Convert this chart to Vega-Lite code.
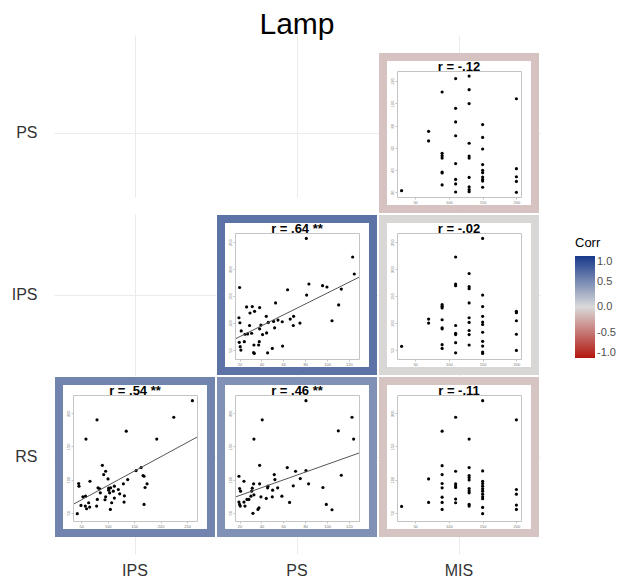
{
"$schema": "https://vega.github.io/schema/vega-lite/v6.json",
"background": "white",
"padding": {"left": 11, "top": 10, "right": 2, "bottom": 5},
"title": {"text": "Lamp", "fontSize": 30, "fontWeight": "normal", "color": "#000000", "font": "Liberation Sans", "anchor": "middle", "frame": "group", "dx": 254, "offset": -5},
"columns": 3,
"spacing": 0,
"align": "each",
"bounds": "flush",
"resolve": {"scale": {"stroke": "shared"}, "legend": {"stroke": "shared"}},
"config": {"view": {"stroke": null}, "font": "Liberation Sans",
  "legend": {"gradientLength": 102, "gradientThickness": 20, "titleFontSize": 13, "titleFontWeight": "normal", "titleColor": "#000000", "labelFontSize": 11, "labelColor": "#4d4d4d", "titlePadding": 6, "labelOffset": 2, "direction": "vertical", "gradientStrokeWidth": 0}},
"datasets": {
 "tiles": [
  {"row": "PS", "col": "MIS", "corr": -0.12, "label": "r = -.12"},
  {"row": "IPS", "col": "PS", "corr": 0.64, "label": "r = .64 **"},
  {"row": "IPS", "col": "MIS", "corr": -0.02, "label": "r = -.02"},
  {"row": "RS", "col": "IPS", "corr": 0.54, "label": "r = .54 **"},
  {"row": "RS", "col": "PS", "corr": 0.46, "label": "r = .46 **"},
  {"row": "RS", "col": "MIS", "corr": -0.11, "label": "r = -.11"}
 ],
 "empty": [{"row": "PS", "col": "IPS"}, {"row": "PS", "col": "PS"}, {"row": "IPS", "col": "IPS"}],
 "rs_ips": [
  {"x":260,"y":219},{"x":224.8,"y":194},{"x":79.7,"y":190},{"x":135,"y":173},{"x":58.8,"y":161},{"x":192.6,"y":161},{"x":89.8,"y":121.5},{"x":96,"y":112.5},{"x":92.3,"y":107.5},{"x":163,"y":118},{"x":153.5,"y":113.5},{"x":166.7,"y":106},{"x":168.6,"y":105},{"x":100.5,"y":101},{"x":137.7,"y":100},{"x":66.4,"y":97.5},{"x":45,"y":94},{"x":45.6,"y":90},{"x":81.6,"y":87.5},{"x":84.7,"y":86},{"x":101.7,"y":87},{"x":105.5,"y":87.5},{"x":112.5,"y":90},{"x":120,"y":85},{"x":129.5,"y":93.5},{"x":174.3,"y":93.5},{"x":170.5,"y":88},{"x":101.7,"y":84},{"x":110.5,"y":82.5},{"x":85.9,"y":80},{"x":122.6,"y":78.5},{"x":131.4,"y":75.5},{"x":53,"y":74},{"x":58,"y":75},{"x":96,"y":74},{"x":103.6,"y":80},{"x":112.5,"y":72},{"x":80.3,"y":70},{"x":94.8,"y":69.5},{"x":130.8,"y":66},{"x":63.9,"y":65},{"x":107.4,"y":65},{"x":49.4,"y":61},{"x":57.6,"y":60},{"x":65.8,"y":58.5},{"x":60,"y":56},{"x":79,"y":60},{"x":104.9,"y":55},{"x":168.6,"y":62.5},{"x":42.4,"y":48.5}
 ],
 "rs_ps": [
  {"x":80.7,"y":219},{"x":122.8,"y":194},{"x":40.7,"y":190},{"x":110.3,"y":173.5},{"x":33.1,"y":161},{"x":124.3,"y":161},{"x":38.3,"y":121.5},{"x":63.6,"y":118},{"x":80.7,"y":113.5},{"x":71.2,"y":112.5},{"x":51.7,"y":107.5},{"x":113,"y":106.5},{"x":19.4,"y":105},{"x":52.3,"y":100},{"x":75.5,"y":101.5},{"x":24,"y":97.5},{"x":32.8,"y":93.5},{"x":38.3,"y":93.5},{"x":83.1,"y":93.5},{"x":45.9,"y":90},{"x":69.1,"y":90.5},{"x":54.8,"y":87.5},{"x":45.6,"y":87.5},{"x":96.2,"y":88},{"x":20,"y":86.5},{"x":20.9,"y":82.5},{"x":31,"y":82.5},{"x":50.2,"y":84},{"x":31.6,"y":87},{"x":33.1,"y":77},{"x":39.5,"y":74},{"x":49.9,"y":74},{"x":44.4,"y":71.5},{"x":58.7,"y":75},{"x":30.4,"y":75},{"x":26.7,"y":70},{"x":28.5,"y":70},{"x":19.4,"y":66},{"x":24,"y":66},{"x":65.7,"y":65.5},{"x":20,"y":62.5},{"x":20.6,"y":60},{"x":24.9,"y":60},{"x":37.7,"y":57.5},{"x":36.8,"y":55},{"x":32.2,"y":49},{"x":99.3,"y":62.5},{"x":104.5,"y":54.5}
 ],
 "ips_ps": [
  {"x":81,"y":256.9},{"x":123.4,"y":222.5},{"x":124.9,"y":191},{"x":20,"y":166},{"x":83.4,"y":172.5},{"x":63.9,"y":161.9},{"x":95.9,"y":169.4},{"x":99.9,"y":166.9},{"x":113,"y":163.1},{"x":81.3,"y":151.9},{"x":110.6,"y":133.8},{"x":52.9,"y":137.5},{"x":26.4,"y":130},{"x":31.6,"y":130.6},{"x":38.3,"y":128.8},{"x":33.7,"y":121.9},{"x":29.5,"y":118.8},{"x":19.4,"y":110},{"x":44.4,"y":112.5},{"x":66.3,"y":107.5},{"x":69.4,"y":112.5},{"x":104.5,"y":104.4},{"x":20.3,"y":100.6},{"x":46.2,"y":101.3},{"x":55.1,"y":105.6},{"x":59,"y":102.5},{"x":51.1,"y":103.1},{"x":39.5,"y":96.3},{"x":29.1,"y":95.6},{"x":69.1,"y":95.6},{"x":75.2,"y":100},{"x":21.5,"y":85.6},{"x":38.3,"y":89.4},{"x":52,"y":91.3},{"x":31,"y":81.3},{"x":24.9,"y":79.4},{"x":27.3,"y":80},{"x":41,"y":78.8},{"x":44.7,"y":81.9},{"x":19.7,"y":64.4},{"x":24.3,"y":65.6},{"x":38,"y":65.6},{"x":33.1,"y":59.4},{"x":37.4,"y":59.4},{"x":20.6,"y":56.3},{"x":21.2,"y":50},{"x":32.8,"y":45.6},{"x":33.4,"y":43.8},{"x":45.6,"y":45},{"x":49.9,"y":53.1},{"x":59.3,"y":57.5}
 ],
 "ps_mis": [
  {"x":30,"y":21.5},{"x":70,"y":74.9},{"x":70,"y":66.3},{"x":90,"y":110.3},{"x":90,"y":55.1},{"x":90,"y":52.9},{"x":90,"y":50.8},{"x":90,"y":38.3},{"x":90,"y":37.4},{"x":90,"y":26.7},{"x":110,"y":122.4},{"x":110,"y":95.6},{"x":110,"y":83.4},{"x":110,"y":70.9},{"x":110,"y":45.9},{"x":110,"y":31.6},{"x":110,"y":27.6},{"x":110,"y":20.3},{"x":130,"y":124.6},{"x":130,"y":112.4},{"x":130,"y":99.9},{"x":130,"y":64.2},{"x":130,"y":52.6},{"x":130,"y":50.8},{"x":130,"y":33.4},{"x":130,"y":24.9},{"x":130,"y":22.4},{"x":130,"y":20.6},{"x":150,"y":81},{"x":150,"y":69.4},{"x":150,"y":59},{"x":150,"y":45},{"x":150,"y":39.8},{"x":150,"y":37.7},{"x":150,"y":33.7},{"x":150,"y":31.6},{"x":150,"y":30.1},{"x":150,"y":24.6},{"x":200,"y":104.2},{"x":200,"y":41.3},{"x":200,"y":34},{"x":200,"y":29.8},{"x":200,"y":20}
 ],
 "ips_mis": [
  {"x":30,"y":56.9},{"x":70,"y":107.5},{"x":70,"y":100},{"x":90,"y":134.4},{"x":90,"y":131.3},{"x":90,"y":128.1},{"x":90,"y":106.3},{"x":90,"y":91.3},{"x":90,"y":89.4},{"x":90,"y":60},{"x":90,"y":53.1},{"x":110,"y":222.5},{"x":110,"y":172.5},{"x":110,"y":169.4},{"x":110,"y":95.6},{"x":110,"y":81.3},{"x":110,"y":78.8},{"x":110,"y":63.8},{"x":110,"y":45},{"x":130,"y":191.9},{"x":130,"y":167.5},{"x":130,"y":163.8},{"x":130,"y":137.5},{"x":130,"y":110},{"x":130,"y":101.3},{"x":130,"y":86.3},{"x":130,"y":78.8},{"x":130,"y":59.4},{"x":150,"y":256.9},{"x":150,"y":151.9},{"x":150,"y":130.6},{"x":150,"y":112.5},{"x":150,"y":101.9},{"x":150,"y":97.5},{"x":150,"y":83.1},{"x":150,"y":66.3},{"x":150,"y":57.5},{"x":150,"y":46.3},{"x":150,"y":43.8},{"x":200,"y":121.9},{"x":200,"y":119.4},{"x":200,"y":104.4},{"x":200,"y":79.4},{"x":200,"y":49.4}
 ],
 "rs_mis": [
  {"x":30,"y":59.5},{"x":70,"y":101},{"x":70,"y":65.5},{"x":90,"y":173},{"x":90,"y":121},{"x":90,"y":107.5},{"x":90,"y":94},{"x":90,"y":87.5},{"x":90,"y":73.5},{"x":90,"y":65.5},{"x":90,"y":55},{"x":110,"y":194},{"x":110,"y":112.5},{"x":110,"y":93.5},{"x":110,"y":90.5},{"x":110,"y":88},{"x":110,"y":70.5},{"x":110,"y":65},{"x":130,"y":161},{"x":130,"y":118},{"x":130,"y":106},{"x":130,"y":103},{"x":130,"y":99.5},{"x":130,"y":86.5},{"x":130,"y":83},{"x":130,"y":80},{"x":130,"y":62.5},{"x":130,"y":60},{"x":150,"y":219},{"x":150,"y":113},{"x":150,"y":97.5},{"x":150,"y":94},{"x":150,"y":90},{"x":150,"y":86},{"x":150,"y":82.5},{"x":150,"y":78},{"x":150,"y":74},{"x":150,"y":71},{"x":150,"y":58},{"x":150,"y":48.5},{"x":200,"y":190},{"x":200,"y":85},{"x":200,"y":78},{"x":200,"y":61.5},{"x":200,"y":55}
 ],
 "line_rs_ips": [{"x":34.3,"y":62.5},{"x":268.7,"y":164}],
 "line_rs_ps": [{"x":15.8,"y":73.5},{"x":129.2,"y":140}],
 "line_ips_ps": [{"x":15.8,"y":70.5},{"x":129.2,"y":185}]
},
"concat": [
 {
  "width": 173, "height": 179,
  "data": {"name": "empty"},
  "transform": [{"filter": "datum.row == 'PS' && datum.col == 'IPS'"}],
  "mark": {"type": "rect", "opacity": 0},
  "encoding": {
   "x": {"field": "col", "type": "nominal", "scale": {"range": [11, 173], "paddingInner": 0, "paddingOuter": 0.033}, "axis": {"orient": "bottom", "title": null, "grid": true, "gridColor": "#ebebeb", "gridWidth": 1, "ticks": false, "domain": false, "labels": false, "bandPosition": 0.5, "zindex": 0}},
   "y": {"field": "row", "type": "nominal", "scale": {"range": [17, 179], "paddingInner": 0, "paddingOuter": 0.033}, "axis": {"orient": "left", "title": null, "grid": true, "gridColor": "#ebebeb", "gridWidth": 1, "ticks": false, "domain": false, "labels": true, "labelFont": "Liberation Sans", "labelFontSize": 16, "labelColor": "#333333", "labelPadding": 6, "labelAngle": 0, "bandPosition": 0.5, "zindex": 0}}
  }
 },
 {
  "width": 162, "height": 179,
  "data": {"name": "empty"},
  "transform": [{"filter": "datum.row == 'PS' && datum.col == 'PS'"}],
  "mark": {"type": "rect", "opacity": 0},
  "encoding": {
   "x": {"field": "col", "type": "nominal", "scale": {"range": [0, 162], "paddingInner": 0, "paddingOuter": 0.033}, "axis": {"orient": "bottom", "title": null, "grid": true, "gridColor": "#ebebeb", "gridWidth": 1, "ticks": false, "domain": false, "labels": false, "bandPosition": 0.5, "zindex": 0}},
   "y": {"field": "row", "type": "nominal", "scale": {"range": [17, 179], "paddingInner": 0, "paddingOuter": 0.033}, "axis": {"orient": "left", "title": null, "grid": true, "gridColor": "#ebebeb", "gridWidth": 1, "ticks": false, "domain": false, "labels": false, "bandPosition": 0.5, "zindex": 0}}
  }
 },
 {
  "width": 173, "height": 179,
  "layer": [
   {
    "data": {"name": "tiles"},
    "transform": [{"filter": "datum.row == 'PS' && datum.col == 'MIS'"}],
    "encoding": {
     "x": {"field": "col", "type": "nominal", "scale": {"range": [0, 162], "paddingInner": 0, "paddingOuter": 0.033}, "axis": {"orient": "bottom", "title": null, "grid": true, "gridColor": "#ebebeb", "gridWidth": 1, "ticks": false, "domain": false, "labels": false, "bandPosition": 0.5, "zindex": 0}},
     "y": {"field": "row", "type": "nominal", "scale": {"range": [17, 179], "paddingInner": 0, "paddingOuter": 0.033}, "axis": {"orient": "left", "title": null, "grid": true, "gridColor": "#ebebeb", "gridWidth": 1, "ticks": false, "domain": false, "labels": false, "bandPosition": 0.5, "zindex": 0}}
    },
    "layer": [
     {"mark": {"type": "rect", "fill": "white", "strokeWidth": 8}, "encoding": {"stroke": {"field": "corr", "type": "quantitative", "scale": {"domain": [-1, 0, 1], "range": ["#B2150D", "#DADADA", "#17398B"], "interpolate": "rgb"}, "legend": {"title": "Corr", "values": [1, 0.5, 0, -0.5, -1], "format": ".1f", "labelExpr": "replace(datum.label, '−', '-')", "orient": "none", "legendX": 532, "legendY": 202}}}},
     {"mark": {"type": "text", "dy": -62, "font": "Liberation Sans", "fontSize": 13, "fontWeight": "bold", "color": "#000000", "baseline": "alphabetic", "align": "center"}, "encoding": {"text": {"field": "label", "type": "nominal"}}}
    ]
   },
   {
    "data": {"name": "ps_mis"},
    "layer": [
     {"mark": {"type": "circle", "size": 10, "color": "#000000", "opacity": 1},
      "encoding": {
       "x": {"field": "x", "type": "quantitative", "scale": {"domain": [23.2, 206.8], "range": [19, 143], "nice": false, "zero": false}, "axis": {"orient": "bottom", "offset": -17, "values": [50, 100, 150, 200], "title": null, "grid": false, "domainColor": "#c4c4c4", "tickColor": "#c4c4c4", "tickSize": 2, "labelFontSize": 4, "labelColor": "#777777", "labelPadding": 1, "labelOverlap": false, "labelFlush": false, "zindex": 1}},
       "y": {"field": "y", "type": "quantitative", "scale": {"domain": [15.8, 129.2], "range": [162, 36], "nice": false, "zero": false}, "axis": {"orient": "left", "offset": -19, "values": [20, 40, 60, 80, 100, 120], "title": null, "grid": false, "domainColor": "#c4c4c4", "tickColor": "#c4c4c4", "tickSize": 2, "labelFontSize": 4, "labelColor": "#777777", "labelPadding": 1, "labelAngle": 270, "labelOverlap": false, "labelFlush": false, "zindex": 1}}
      }},
     {"mark": {"type": "circle", "opacity": 0},
      "encoding": {
       "x": {"field": "x", "type": "quantitative", "scale": {"domain": [23.2, 206.8], "range": [19, 143], "nice": false, "zero": false}, "axis": {"orient": "top", "offset": -36, "title": null, "grid": false, "ticks": false, "labels": false, "domainColor": "#c4c4c4", "zindex": 1}},
       "y": {"field": "y", "type": "quantitative", "scale": {"domain": [15.8, 129.2], "range": [162, 36], "nice": false, "zero": false}, "axis": {"orient": "right", "offset": -30, "title": null, "grid": false, "ticks": false, "labels": false, "domainColor": "#c4c4c4", "zindex": 1}}
      }}
    ],
    "resolve": {"axis": {"x": "independent", "y": "independent"}}
   }
  ],
  "resolve": {"scale": {"x": "independent", "y": "independent"}, "axis": {"x": "independent", "y": "independent"}}
 },
 {
  "width": 173, "height": 162,
  "data": {"name": "empty"},
  "transform": [{"filter": "datum.row == 'IPS' && datum.col == 'IPS'"}],
  "mark": {"type": "rect", "opacity": 0},
  "encoding": {
   "x": {"field": "col", "type": "nominal", "scale": {"range": [11, 173], "paddingInner": 0, "paddingOuter": 0.033}, "axis": {"orient": "bottom", "title": null, "grid": true, "gridColor": "#ebebeb", "gridWidth": 1, "ticks": false, "domain": false, "labels": false, "bandPosition": 0.5, "zindex": 0}},
   "y": {"field": "row", "type": "nominal", "scale": {"range": [0, 162], "paddingInner": 0, "paddingOuter": 0.033}, "axis": {"orient": "left", "title": null, "grid": true, "gridColor": "#ebebeb", "gridWidth": 1, "ticks": false, "domain": false, "labels": true, "labelFont": "Liberation Sans", "labelFontSize": 16, "labelColor": "#333333", "labelPadding": 6, "labelAngle": 0, "bandPosition": 0.5, "zindex": 0}}
  }
 },
 {
  "width": 162, "height": 162,
  "layer": [
   {
    "data": {"name": "tiles"},
    "transform": [{"filter": "datum.row == 'IPS' && datum.col == 'PS'"}],
    "encoding": {
     "x": {"field": "col", "type": "nominal", "scale": {"range": [0, 162], "paddingInner": 0, "paddingOuter": 0.033}, "axis": {"orient": "bottom", "title": null, "grid": true, "gridColor": "#ebebeb", "gridWidth": 1, "ticks": false, "domain": false, "labels": false, "bandPosition": 0.5, "zindex": 0}},
     "y": {"field": "row", "type": "nominal", "scale": {"range": [0, 162], "paddingInner": 0, "paddingOuter": 0.033}, "axis": {"orient": "left", "title": null, "grid": true, "gridColor": "#ebebeb", "gridWidth": 1, "ticks": false, "domain": false, "labels": false, "bandPosition": 0.5, "zindex": 0}}
    },
    "layer": [
     {"mark": {"type": "rect", "fill": "white", "strokeWidth": 8}, "encoding": {"stroke": {"field": "corr", "type": "quantitative", "scale": {"domain": [-1, 0, 1], "range": ["#B2150D", "#DADADA", "#17398B"], "interpolate": "rgb"}, "legend": {"title": "Corr", "values": [1, 0.5, 0, -0.5, -1], "format": ".1f", "labelExpr": "replace(datum.label, '−', '-')", "orient": "none", "legendX": 532, "legendY": 202}}}},
     {"mark": {"type": "text", "dy": -62, "font": "Liberation Sans", "fontSize": 13, "fontWeight": "bold", "color": "#000000", "baseline": "alphabetic", "align": "center"}, "encoding": {"text": {"field": "label", "type": "nominal"}}}
    ]
   },
   {
    "data": {"name": "ips_ps"},
    "layer": [
     {"mark": {"type": "circle", "size": 10, "color": "#000000", "opacity": 1},
      "encoding": {
       "x": {"field": "x", "type": "quantitative", "scale": {"domain": [15.8, 129.2], "range": [19, 143], "nice": false, "zero": false}, "axis": {"orient": "bottom", "offset": -17, "values": [20, 40, 60, 80, 100, 120], "title": null, "grid": false, "domainColor": "#c4c4c4", "tickColor": "#c4c4c4", "tickSize": 2, "labelFontSize": 4, "labelColor": "#777777", "labelPadding": 1, "labelOverlap": false, "labelFlush": false, "zindex": 1}},
       "y": {"field": "y", "type": "quantitative", "scale": {"domain": [33.5, 267], "range": [145, 19], "nice": false, "zero": false}, "axis": {"orient": "left", "offset": -19, "values": [50, 100, 150, 200, 250], "title": null, "grid": false, "domainColor": "#c4c4c4", "tickColor": "#c4c4c4", "tickSize": 2, "labelFontSize": 4, "labelColor": "#777777", "labelPadding": 1, "labelAngle": 270, "labelOverlap": false, "labelFlush": false, "zindex": 1}}
      }},
     {"mark": {"type": "circle", "opacity": 0},
      "encoding": {
       "x": {"field": "x", "type": "quantitative", "scale": {"domain": [15.8, 129.2], "range": [19, 143], "nice": false, "zero": false}, "axis": {"orient": "top", "offset": -19, "title": null, "grid": false, "ticks": false, "labels": false, "domainColor": "#c4c4c4", "zindex": 1}},
       "y": {"field": "y", "type": "quantitative", "scale": {"domain": [33.5, 267], "range": [145, 19], "nice": false, "zero": false}, "axis": {"orient": "right", "offset": -19, "title": null, "grid": false, "ticks": false, "labels": false, "domainColor": "#c4c4c4", "zindex": 1}}
      }},
     {"data": {"name": "line_ips_ps"}, "mark": {"type": "line", "color": "#555555", "strokeWidth": 1},
      "encoding": {
       "x": {"field": "x", "type": "quantitative", "scale": {"domain": [15.8, 129.2], "range": [19, 143], "nice": false, "zero": false}, "axis": null},
       "y": {"field": "y", "type": "quantitative", "scale": {"domain": [33.5, 267], "range": [145, 19], "nice": false, "zero": false}, "axis": null}
      }}
    ],
    "resolve": {"axis": {"x": "independent", "y": "independent"}}
   }
  ],
  "resolve": {"scale": {"x": "independent", "y": "independent"}, "axis": {"x": "independent", "y": "independent"}}
 },
 {
  "width": 173, "height": 162,
  "layer": [
   {
    "data": {"name": "tiles"},
    "transform": [{"filter": "datum.row == 'IPS' && datum.col == 'MIS'"}],
    "encoding": {
     "x": {"field": "col", "type": "nominal", "scale": {"range": [0, 162], "paddingInner": 0, "paddingOuter": 0.033}, "axis": {"orient": "bottom", "title": null, "grid": true, "gridColor": "#ebebeb", "gridWidth": 1, "ticks": false, "domain": false, "labels": false, "bandPosition": 0.5, "zindex": 0}},
     "y": {"field": "row", "type": "nominal", "scale": {"range": [0, 162], "paddingInner": 0, "paddingOuter": 0.033}, "axis": {"orient": "left", "title": null, "grid": true, "gridColor": "#ebebeb", "gridWidth": 1, "ticks": false, "domain": false, "labels": false, "bandPosition": 0.5, "zindex": 0}}
    },
    "layer": [
     {"mark": {"type": "rect", "fill": "white", "strokeWidth": 8}, "encoding": {"stroke": {"field": "corr", "type": "quantitative", "scale": {"domain": [-1, 0, 1], "range": ["#B2150D", "#DADADA", "#17398B"], "interpolate": "rgb"}, "legend": {"title": "Corr", "values": [1, 0.5, 0, -0.5, -1], "format": ".1f", "labelExpr": "replace(datum.label, '−', '-')", "orient": "none", "legendX": 532, "legendY": 202}}}},
     {"mark": {"type": "text", "dy": -62, "font": "Liberation Sans", "fontSize": 13, "fontWeight": "bold", "color": "#000000", "baseline": "alphabetic", "align": "center"}, "encoding": {"text": {"field": "label", "type": "nominal"}}}
    ]
   },
   {
    "data": {"name": "ips_mis"},
    "layer": [
     {"mark": {"type": "circle", "size": 10, "color": "#000000", "opacity": 1},
      "encoding": {
       "x": {"field": "x", "type": "quantitative", "scale": {"domain": [23.2, 206.8], "range": [19, 143], "nice": false, "zero": false}, "axis": {"orient": "bottom", "offset": -17, "values": [50, 100, 150, 200], "title": null, "grid": false, "domainColor": "#c4c4c4", "tickColor": "#c4c4c4", "tickSize": 2, "labelFontSize": 4, "labelColor": "#777777", "labelPadding": 1, "labelOverlap": false, "labelFlush": false, "zindex": 1}},
       "y": {"field": "y", "type": "quantitative", "scale": {"domain": [33.5, 267], "range": [145, 19], "nice": false, "zero": false}, "axis": {"orient": "left", "offset": -19, "values": [50, 100, 150, 200, 250], "title": null, "grid": false, "domainColor": "#c4c4c4", "tickColor": "#c4c4c4", "tickSize": 2, "labelFontSize": 4, "labelColor": "#777777", "labelPadding": 1, "labelAngle": 270, "labelOverlap": false, "labelFlush": false, "zindex": 1}}
      }},
     {"mark": {"type": "circle", "opacity": 0},
      "encoding": {
       "x": {"field": "x", "type": "quantitative", "scale": {"domain": [23.2, 206.8], "range": [19, 143], "nice": false, "zero": false}, "axis": {"orient": "top", "offset": -19, "title": null, "grid": false, "ticks": false, "labels": false, "domainColor": "#c4c4c4", "zindex": 1}},
       "y": {"field": "y", "type": "quantitative", "scale": {"domain": [33.5, 267], "range": [145, 19], "nice": false, "zero": false}, "axis": {"orient": "right", "offset": -30, "title": null, "grid": false, "ticks": false, "labels": false, "domainColor": "#c4c4c4", "zindex": 1}}
      }}
    ],
    "resolve": {"axis": {"x": "independent", "y": "independent"}}
   }
  ],
  "resolve": {"scale": {"x": "independent", "y": "independent"}, "axis": {"x": "independent", "y": "independent"}}
 },
 {
  "width": 173, "height": 178,
  "layer": [
   {
    "data": {"name": "tiles"},
    "transform": [{"filter": "datum.row == 'RS' && datum.col == 'IPS'"}],
    "encoding": {
     "x": {"field": "col", "type": "nominal", "scale": {"range": [11, 173], "paddingInner": 0, "paddingOuter": 0.033}, "axis": {"orient": "bottom", "title": null, "grid": true, "gridColor": "#ebebeb", "gridWidth": 1, "ticks": false, "domain": false, "labels": true, "labelFont": "Liberation Sans", "labelFontSize": 16, "labelColor": "#333333", "labelPadding": 8, "labelAngle": 0, "bandPosition": 0.5, "zindex": 0}},
     "y": {"field": "row", "type": "nominal", "scale": {"range": [0, 162], "paddingInner": 0, "paddingOuter": 0.033}, "axis": {"orient": "left", "title": null, "grid": true, "gridColor": "#ebebeb", "gridWidth": 1, "ticks": false, "domain": false, "labels": true, "labelFont": "Liberation Sans", "labelFontSize": 16, "labelColor": "#333333", "labelPadding": 6, "labelAngle": 0, "bandPosition": 0.5, "zindex": 0}}
    },
    "layer": [
     {"mark": {"type": "rect", "fill": "white", "strokeWidth": 8}, "encoding": {"stroke": {"field": "corr", "type": "quantitative", "scale": {"domain": [-1, 0, 1], "range": ["#B2150D", "#DADADA", "#17398B"], "interpolate": "rgb"}, "legend": {"title": "Corr", "values": [1, 0.5, 0, -0.5, -1], "format": ".1f", "labelExpr": "replace(datum.label, '−', '-')", "orient": "none", "legendX": 532, "legendY": 202}}}},
     {"mark": {"type": "text", "dy": -62, "font": "Liberation Sans", "fontSize": 13, "fontWeight": "bold", "color": "#000000", "baseline": "alphabetic", "align": "center"}, "encoding": {"text": {"field": "label", "type": "nominal"}}}
    ]
   },
   {
    "data": {"name": "rs_ips"},
    "layer": [
     {"mark": {"type": "circle", "size": 10, "color": "#000000", "opacity": 1},
      "encoding": {
       "x": {"field": "x", "type": "quantitative", "scale": {"domain": [34.3, 268.7], "range": [30, 154], "nice": false, "zero": false}, "axis": {"orient": "bottom", "offset": -33, "values": [50, 100, 150, 200, 250], "title": null, "grid": false, "domainColor": "#c4c4c4", "tickColor": "#c4c4c4", "tickSize": 2, "labelFontSize": 4, "labelColor": "#777777", "labelPadding": 1, "labelOverlap": false, "labelFlush": false, "zindex": 1}},
       "y": {"field": "y", "type": "quantitative", "scale": {"domain": [37.5, 227.5], "range": [145, 19], "nice": false, "zero": false}, "axis": {"orient": "left", "offset": -30, "values": [50, 100, 150, 200], "title": null, "grid": false, "domainColor": "#c4c4c4", "tickColor": "#c4c4c4", "tickSize": 2, "labelFontSize": 4, "labelColor": "#777777", "labelPadding": 1, "labelAngle": 270, "labelOverlap": false, "labelFlush": false, "zindex": 1}}
      }},
     {"mark": {"type": "circle", "opacity": 0},
      "encoding": {
       "x": {"field": "x", "type": "quantitative", "scale": {"domain": [34.3, 268.7], "range": [30, 154], "nice": false, "zero": false}, "axis": {"orient": "top", "offset": -19, "title": null, "grid": false, "ticks": false, "labels": false, "domainColor": "#c4c4c4", "zindex": 1}},
       "y": {"field": "y", "type": "quantitative", "scale": {"domain": [37.5, 227.5], "range": [145, 19], "nice": false, "zero": false}, "axis": {"orient": "right", "offset": -19, "title": null, "grid": false, "ticks": false, "labels": false, "domainColor": "#c4c4c4", "zindex": 1}}
      }},
     {"data": {"name": "line_rs_ips"}, "mark": {"type": "line", "color": "#555555", "strokeWidth": 1},
      "encoding": {
       "x": {"field": "x", "type": "quantitative", "scale": {"domain": [34.3, 268.7], "range": [30, 154], "nice": false, "zero": false}, "axis": null},
       "y": {"field": "y", "type": "quantitative", "scale": {"domain": [37.5, 227.5], "range": [145, 19], "nice": false, "zero": false}, "axis": null}
      }}
    ],
    "resolve": {"axis": {"x": "independent", "y": "independent"}}
   }
  ],
  "resolve": {"scale": {"x": "independent", "y": "independent"}, "axis": {"x": "independent", "y": "independent"}}
 },
 {
  "width": 162, "height": 178,
  "layer": [
   {
    "data": {"name": "tiles"},
    "transform": [{"filter": "datum.row == 'RS' && datum.col == 'PS'"}],
    "encoding": {
     "x": {"field": "col", "type": "nominal", "scale": {"range": [0, 162], "paddingInner": 0, "paddingOuter": 0.033}, "axis": {"orient": "bottom", "title": null, "grid": true, "gridColor": "#ebebeb", "gridWidth": 1, "ticks": false, "domain": false, "labels": true, "labelFont": "Liberation Sans", "labelFontSize": 16, "labelColor": "#333333", "labelPadding": 8, "labelAngle": 0, "bandPosition": 0.5, "zindex": 0}},
     "y": {"field": "row", "type": "nominal", "scale": {"range": [0, 162], "paddingInner": 0, "paddingOuter": 0.033}, "axis": {"orient": "left", "title": null, "grid": true, "gridColor": "#ebebeb", "gridWidth": 1, "ticks": false, "domain": false, "labels": false, "bandPosition": 0.5, "zindex": 0}}
    },
    "layer": [
     {"mark": {"type": "rect", "fill": "white", "strokeWidth": 8}, "encoding": {"stroke": {"field": "corr", "type": "quantitative", "scale": {"domain": [-1, 0, 1], "range": ["#B2150D", "#DADADA", "#17398B"], "interpolate": "rgb"}, "legend": {"title": "Corr", "values": [1, 0.5, 0, -0.5, -1], "format": ".1f", "labelExpr": "replace(datum.label, '−', '-')", "orient": "none", "legendX": 532, "legendY": 202}}}},
     {"mark": {"type": "text", "dy": -62, "font": "Liberation Sans", "fontSize": 13, "fontWeight": "bold", "color": "#000000", "baseline": "alphabetic", "align": "center"}, "encoding": {"text": {"field": "label", "type": "nominal"}}}
    ]
   },
   {
    "data": {"name": "rs_ps"},
    "layer": [
     {"mark": {"type": "circle", "size": 10, "color": "#000000", "opacity": 1},
      "encoding": {
       "x": {"field": "x", "type": "quantitative", "scale": {"domain": [15.8, 129.2], "range": [19, 143], "nice": false, "zero": false}, "axis": {"orient": "bottom", "offset": -33, "values": [20, 40, 60, 80, 100, 120], "title": null, "grid": false, "domainColor": "#c4c4c4", "tickColor": "#c4c4c4", "tickSize": 2, "labelFontSize": 4, "labelColor": "#777777", "labelPadding": 1, "labelOverlap": false, "labelFlush": false, "zindex": 1}},
       "y": {"field": "y", "type": "quantitative", "scale": {"domain": [37.5, 227.5], "range": [145, 19], "nice": false, "zero": false}, "axis": {"orient": "left", "offset": -19, "values": [50, 100, 150, 200], "title": null, "grid": false, "domainColor": "#c4c4c4", "tickColor": "#c4c4c4", "tickSize": 2, "labelFontSize": 4, "labelColor": "#777777", "labelPadding": 1, "labelAngle": 270, "labelOverlap": false, "labelFlush": false, "zindex": 1}}
      }},
     {"mark": {"type": "circle", "opacity": 0},
      "encoding": {
       "x": {"field": "x", "type": "quantitative", "scale": {"domain": [15.8, 129.2], "range": [19, 143], "nice": false, "zero": false}, "axis": {"orient": "top", "offset": -19, "title": null, "grid": false, "ticks": false, "labels": false, "domainColor": "#c4c4c4", "zindex": 1}},
       "y": {"field": "y", "type": "quantitative", "scale": {"domain": [37.5, 227.5], "range": [145, 19], "nice": false, "zero": false}, "axis": {"orient": "right", "offset": -19, "title": null, "grid": false, "ticks": false, "labels": false, "domainColor": "#c4c4c4", "zindex": 1}}
      }},
     {"data": {"name": "line_rs_ps"}, "mark": {"type": "line", "color": "#555555", "strokeWidth": 1},
      "encoding": {
       "x": {"field": "x", "type": "quantitative", "scale": {"domain": [15.8, 129.2], "range": [19, 143], "nice": false, "zero": false}, "axis": null},
       "y": {"field": "y", "type": "quantitative", "scale": {"domain": [37.5, 227.5], "range": [145, 19], "nice": false, "zero": false}, "axis": null}
      }}
    ],
    "resolve": {"axis": {"x": "independent", "y": "independent"}}
   }
  ],
  "resolve": {"scale": {"x": "independent", "y": "independent"}, "axis": {"x": "independent", "y": "independent"}}
 },
 {
  "width": 173, "height": 178,
  "layer": [
   {
    "data": {"name": "tiles"},
    "transform": [{"filter": "datum.row == 'RS' && datum.col == 'MIS'"}],
    "encoding": {
     "x": {"field": "col", "type": "nominal", "scale": {"range": [0, 162], "paddingInner": 0, "paddingOuter": 0.033}, "axis": {"orient": "bottom", "title": null, "grid": true, "gridColor": "#ebebeb", "gridWidth": 1, "ticks": false, "domain": false, "labels": true, "labelFont": "Liberation Sans", "labelFontSize": 16, "labelColor": "#333333", "labelPadding": 8, "labelAngle": 0, "bandPosition": 0.5, "zindex": 0}},
     "y": {"field": "row", "type": "nominal", "scale": {"range": [0, 162], "paddingInner": 0, "paddingOuter": 0.033}, "axis": {"orient": "left", "title": null, "grid": true, "gridColor": "#ebebeb", "gridWidth": 1, "ticks": false, "domain": false, "labels": false, "bandPosition": 0.5, "zindex": 0}}
    },
    "layer": [
     {"mark": {"type": "rect", "fill": "white", "strokeWidth": 8}, "encoding": {"stroke": {"field": "corr", "type": "quantitative", "scale": {"domain": [-1, 0, 1], "range": ["#B2150D", "#DADADA", "#17398B"], "interpolate": "rgb"}, "legend": {"title": "Corr", "values": [1, 0.5, 0, -0.5, -1], "format": ".1f", "labelExpr": "replace(datum.label, '−', '-')", "orient": "none", "legendX": 532, "legendY": 202}}}},
     {"mark": {"type": "text", "dy": -62, "font": "Liberation Sans", "fontSize": 13, "fontWeight": "bold", "color": "#000000", "baseline": "alphabetic", "align": "center"}, "encoding": {"text": {"field": "label", "type": "nominal"}}}
    ]
   },
   {
    "data": {"name": "rs_mis"},
    "layer": [
     {"mark": {"type": "circle", "size": 10, "color": "#000000", "opacity": 1},
      "encoding": {
       "x": {"field": "x", "type": "quantitative", "scale": {"domain": [23.2, 206.8], "range": [19, 143], "nice": false, "zero": false}, "axis": {"orient": "bottom", "offset": -33, "values": [50, 100, 150, 200], "title": null, "grid": false, "domainColor": "#c4c4c4", "tickColor": "#c4c4c4", "tickSize": 2, "labelFontSize": 4, "labelColor": "#777777", "labelPadding": 1, "labelOverlap": false, "labelFlush": false, "zindex": 1}},
       "y": {"field": "y", "type": "quantitative", "scale": {"domain": [37.5, 227.5], "range": [145, 19], "nice": false, "zero": false}, "axis": {"orient": "left", "offset": -19, "values": [50, 100, 150, 200], "title": null, "grid": false, "domainColor": "#c4c4c4", "tickColor": "#c4c4c4", "tickSize": 2, "labelFontSize": 4, "labelColor": "#777777", "labelPadding": 1, "labelAngle": 270, "labelOverlap": false, "labelFlush": false, "zindex": 1}}
      }},
     {"mark": {"type": "circle", "opacity": 0},
      "encoding": {
       "x": {"field": "x", "type": "quantitative", "scale": {"domain": [23.2, 206.8], "range": [19, 143], "nice": false, "zero": false}, "axis": {"orient": "top", "offset": -19, "title": null, "grid": false, "ticks": false, "labels": false, "domainColor": "#c4c4c4", "zindex": 1}},
       "y": {"field": "y", "type": "quantitative", "scale": {"domain": [37.5, 227.5], "range": [145, 19], "nice": false, "zero": false}, "axis": {"orient": "right", "offset": -30, "title": null, "grid": false, "ticks": false, "labels": false, "domainColor": "#c4c4c4", "zindex": 1}}
      }}
    ],
    "resolve": {"axis": {"x": "independent", "y": "independent"}}
   }
  ],
  "resolve": {"scale": {"x": "independent", "y": "independent"}, "axis": {"x": "independent", "y": "independent"}}
 }
]
}
